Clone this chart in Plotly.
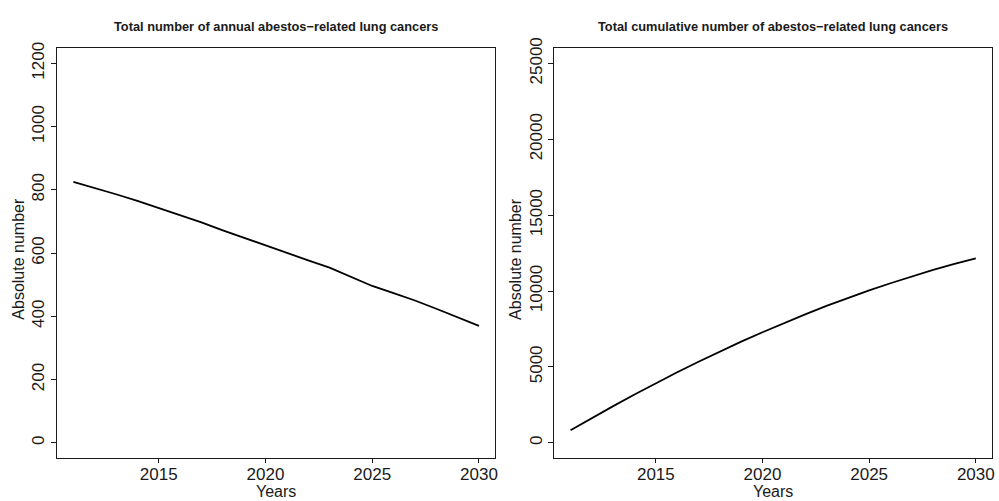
import plotly.graph_objects as go
from plotly.subplots import make_subplots

# Projected asbestos-related lung cancers, 2011-2030
years = list(range(2011, 2031))
annual_cases = [825, 806, 786, 765, 743, 720, 697, 672, 648, 623,
                600, 577, 554, 526, 496, 473, 450, 424, 398, 370]
cumulative_cases = [825, 1631, 2417, 3182, 3925, 4645, 5342, 6014, 6662, 7285,
                    7885, 8462, 9016, 9542, 10038, 10511, 10961, 11385, 11783, 12153]

x_ticks = [2015, 2020, 2025, 2030]
annual_ticks = [0, 200, 400, 600, 800, 1000, 1200]
cumulative_ticks = [0, 5000, 10000, 15000, 20000, 25000]

titles = ["Total number of annual abestos\u2212related lung cancers",
          "Total cumulative number of abestos\u2212related lung cancers"]

W, H = 999, 501
FONT = "Liberation Sans, Arial, Helvetica, sans-serif"
INK = "#1a1a1a"

fig = make_subplots(rows=1, cols=2)

fig.add_trace(go.Scatter(x=years, y=annual_cases, mode="lines",
                         line=dict(color="black", width=1.8),
                         showlegend=False), row=1, col=1)
fig.add_trace(go.Scatter(x=years, y=cumulative_cases, mode="lines",
                         line=dict(color="black", width=1.8),
                         showlegend=False), row=1, col=2)

# plot boxes in pixel terms
left_box = (57.3, 496.7)
right_box = (556.0, 995.0)
top_px, bottom_px = 38.0, 457.0
ydom = [1 - bottom_px / H, 1 - top_px / H]


def ext(lo, hi, f=0.04):
    d = (hi - lo) * f
    return [lo - d, hi + d]


common_x = dict(
    range=ext(2011, 2030), tickmode="array", tickvals=x_ticks,
    ticktext=[str(v) for v in x_ticks],
    ticks="outside", ticklen=4, tickwidth=1, tickcolor=INK,
    ticklabelstandoff=-3,
    showline=True, linecolor=INK, linewidth=1, mirror=True,
    showgrid=False, zeroline=False,
    tickfont=dict(family=FONT, size=17, color=INK),
)
common_y = dict(
    ticks="outside", ticklen=5, tickwidth=1, tickcolor=INK,
    showline=True, linecolor=INK, linewidth=1, mirror=True,
    showgrid=False, zeroline=False, tickangle=-90,
    tickfont=dict(family=FONT, size=17, color=INK),
    domain=ydom,
)

fig.update_xaxes(domain=[left_box[0] / W, left_box[1] / W], **common_x, row=1, col=1)
fig.update_xaxes(domain=[right_box[0] / W, right_box[1] / W], **common_x, row=1, col=2)
fig.update_yaxes(range=ext(0, 1200), tickmode="array", tickvals=annual_ticks,
                 ticktext=[str(v) for v in annual_ticks],
                 **common_y, row=1, col=1)
fig.update_yaxes(range=ext(0, 25000), tickmode="array", tickvals=cumulative_ticks,
                 ticktext=[str(v) for v in cumulative_ticks],
                 **common_y, row=1, col=2)

annotations = []
for (x0, x1), title in zip([left_box, right_box], titles):
    cx = (x0 + x1) / 2 / W
    annotations.append(dict(text="<b>" + title + "</b>", x=cx, y=1 - 16 / H,
                            xref="paper", yref="paper", showarrow=False,
                            xanchor="center", yanchor="middle",
                            font=dict(family=FONT, size=12.8, color=INK)))
    annotations.append(dict(text="Years", x=cx, y=1 - 491 / H,
                            xref="paper", yref="paper", showarrow=False,
                            xanchor="center", yanchor="middle",
                            font=dict(family=FONT, size=16, color=INK)))
    annotations.append(dict(text="Absolute number", x=(x0 - 39) / W,
                            y=1 - 253 / H,
                            xref="paper", yref="paper", showarrow=False,
                            textangle=-90, xanchor="center", yanchor="middle",
                            font=dict(family=FONT, size=16, color=INK)))

fig.update_layout(
    width=W, height=H,
    margin=dict(l=0, r=0, t=0, b=0),
    paper_bgcolor="white", plot_bgcolor="white",
    annotations=annotations,
    showlegend=False,
)

fig.write_html("out.html")
